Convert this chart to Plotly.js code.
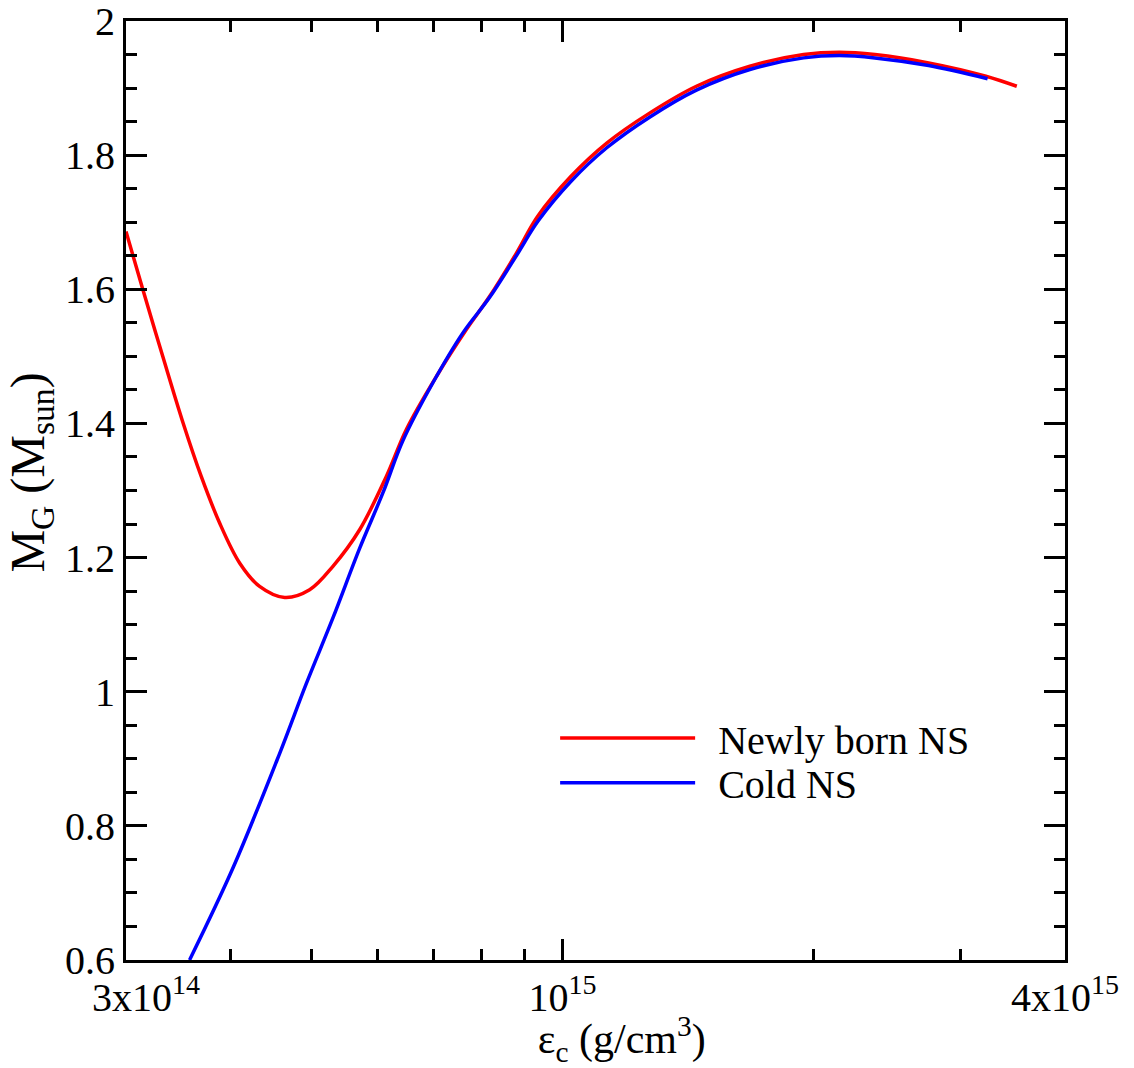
<!DOCTYPE html>
<html><head><meta charset="utf-8">
<script src="https://cdn.plot.ly/plotly-3.0.1.min.js"></script>
<style>html,body{margin:0;padding:0;background:#fff}</style>
</head><body>
<div id="chart" style="width:1134px;height:1068px"></div>
<script>
// Newly born NS (red)
const newlyEps = [3.00e14, 3.142e14, 3.320e14, 3.511e14, 3.692e14, 3.884e14, 4.104e14, 4.337e14, 4.647e14, 4.979e14,
  5.309e14, 5.715e14, 6.152e14, 6.501e14, 7.063e14, 7.671e14, 8.181e14, 8.808e14, 9.34e14, 1.024e15,
  1.130e15, 1.273e15, 1.447e15, 1.677e15, 1.945e15, 2.146e15, 2.368e15, 2.746e15, 3.216e15, 3.502e15];
const newlyMass = [1.686, 1.600, 1.500, 1.401, 1.321, 1.2515, 1.192, 1.157, 1.1405, 1.152,
  1.187, 1.2415, 1.321, 1.391, 1.470, 1.540, 1.5895, 1.654, 1.709, 1.7685,
  1.818, 1.863, 1.9027, 1.9326, 1.950, 1.9535, 1.950, 1.9376, 1.9177, 1.9027];
// Cold NS (blue)
const coldEps = [3.575e14, 4.028e14, 4.583e14, 4.933e14, 5.309e14, 5.715e14, 6.095e14, 6.440e14, 6.998e14, 7.598e14,
  8.181e14, 8.847e14, 9.34e14, 1.024e15, 1.130e15, 1.273e15, 1.447e15, 1.677e15, 1.945e15, 2.146e15,
  2.368e15, 2.746e15, 3.231e15];
const coldMass = [0.600, 0.7367, 0.9078, 1.012, 1.110, 1.2137, 1.2967, 1.3744, 1.461, 1.535,
  1.588, 1.654, 1.701, 1.761, 1.811, 1.857, 1.897, 1.9277, 1.945, 1.9485,
  1.945, 1.9336, 1.914];

const seriesNames = ['Newly born NS', 'Cold NS'];
const xTickVals = [3e14, 1e15, 4e15];
const xTickText = ['&nbsp;&nbsp;&nbsp;&nbsp;3x10<sup>14</sup>', '10<sup>15</sup>', '4x10<sup>15</sup>'];
const xMinorVals = [4e14, 5e14, 6e14, 7e14, 8e14, 9e14, 2e15, 3e15];
const yTickVals = [0.6, 0.8, 1, 1.2, 1.4, 1.6, 1.8, 2];
const yTickText = ['0.6', '0.8', '1', '1.2', '1.4', '1.6', '1.8', '2'];

const fontFam = '"Liberation Serif", "Times New Roman", serif';

const traces = [
  {x: newlyEps, y: newlyMass, name: '&nbsp;&#8201;' + seriesNames[0], type: 'scatter', mode: 'lines',
   legend: 'legend',
   line: {color: '#ff0000', width: 3.5, shape: 'spline', smoothing: 1.0}},
  {x: coldEps, y: coldMass, name: '&nbsp;&#8201;' + seriesNames[1], type: 'scatter', mode: 'lines',
   legend: 'legend2',
   line: {color: '#0000ff', width: 3.5, shape: 'spline', smoothing: 1.0}}
];

const legendBase = {xanchor: 'left', yanchor: 'top', bgcolor: 'rgba(0,0,0,0)',
  font: {family: fontFam, size: 40, color: '#000'}, itemwidth: 135};

const layout = {
  width: 1134, height: 1068,
  margin: {l: 126, r: 69, t: 21, b: 108},
  paper_bgcolor: '#ffffff', plot_bgcolor: '#ffffff',
  font: {family: fontFam, size: 40, color: '#000'},
  showlegend: true,
  legend: Object.assign({x: 0.457, y: 0.271}, legendBase),
  legend2: Object.assign({x: 0.457, y: 0.2234}, legendBase),
  xaxis: {
    type: 'log', range: [Math.log10(3e14), Math.log10(4e15)],
    tickmode: 'array', tickvals: xTickVals, ticktext: xTickText,
    ticks: 'inside', ticklen: 21, tickwidth: 3, tickcolor: '#000',
    ticklabeloverflow: 'allow',
    showline: true, linewidth: 3, linecolor: '#000', mirror: 'allticks',
    showgrid: false, zeroline: false,
    tickfont: {family: fontFam, size: 40, color: '#000'},
    minor: {tickmode: 'array', tickvals: xMinorVals, ticks: 'inside', ticklen: 11, tickwidth: 3, tickcolor: '#000', showgrid: false},
    title: {text: '&nbsp;&nbsp;&nbsp;&nbsp;&nbsp;ε<sub>c</sub> (g/cm<sup>3</sup>)', font: {family: fontFam, size: 42, color: '#000'}, standoff: 6}
  },
  yaxis: {
    range: [0.6, 2],
    tickmode: 'array', tickvals: yTickVals, ticktext: yTickText,
    ticks: 'inside', ticklen: 21, tickwidth: 3, tickcolor: '#000',
    ticklabeloverflow: 'allow',
    showline: true, linewidth: 3, linecolor: '#000', mirror: 'allticks',
    showgrid: false, zeroline: false,
    tickfont: {family: fontFam, size: 40, color: '#000'},
    minor: {dtick: 0.05, ticks: 'inside', ticklen: 11, tickwidth: 3, tickcolor: '#000', showgrid: false},
    title: {text: '&nbsp;&nbsp;&nbsp;M<sub>G</sub> (M<sub>sun</sub>)', font: {family: fontFam, size: 48, color: '#000'}, standoff: 6}
  }
};

Plotly.newPlot('chart', traces, layout, {displayModeBar: false, staticPlot: true});
</script>
</body></html>
